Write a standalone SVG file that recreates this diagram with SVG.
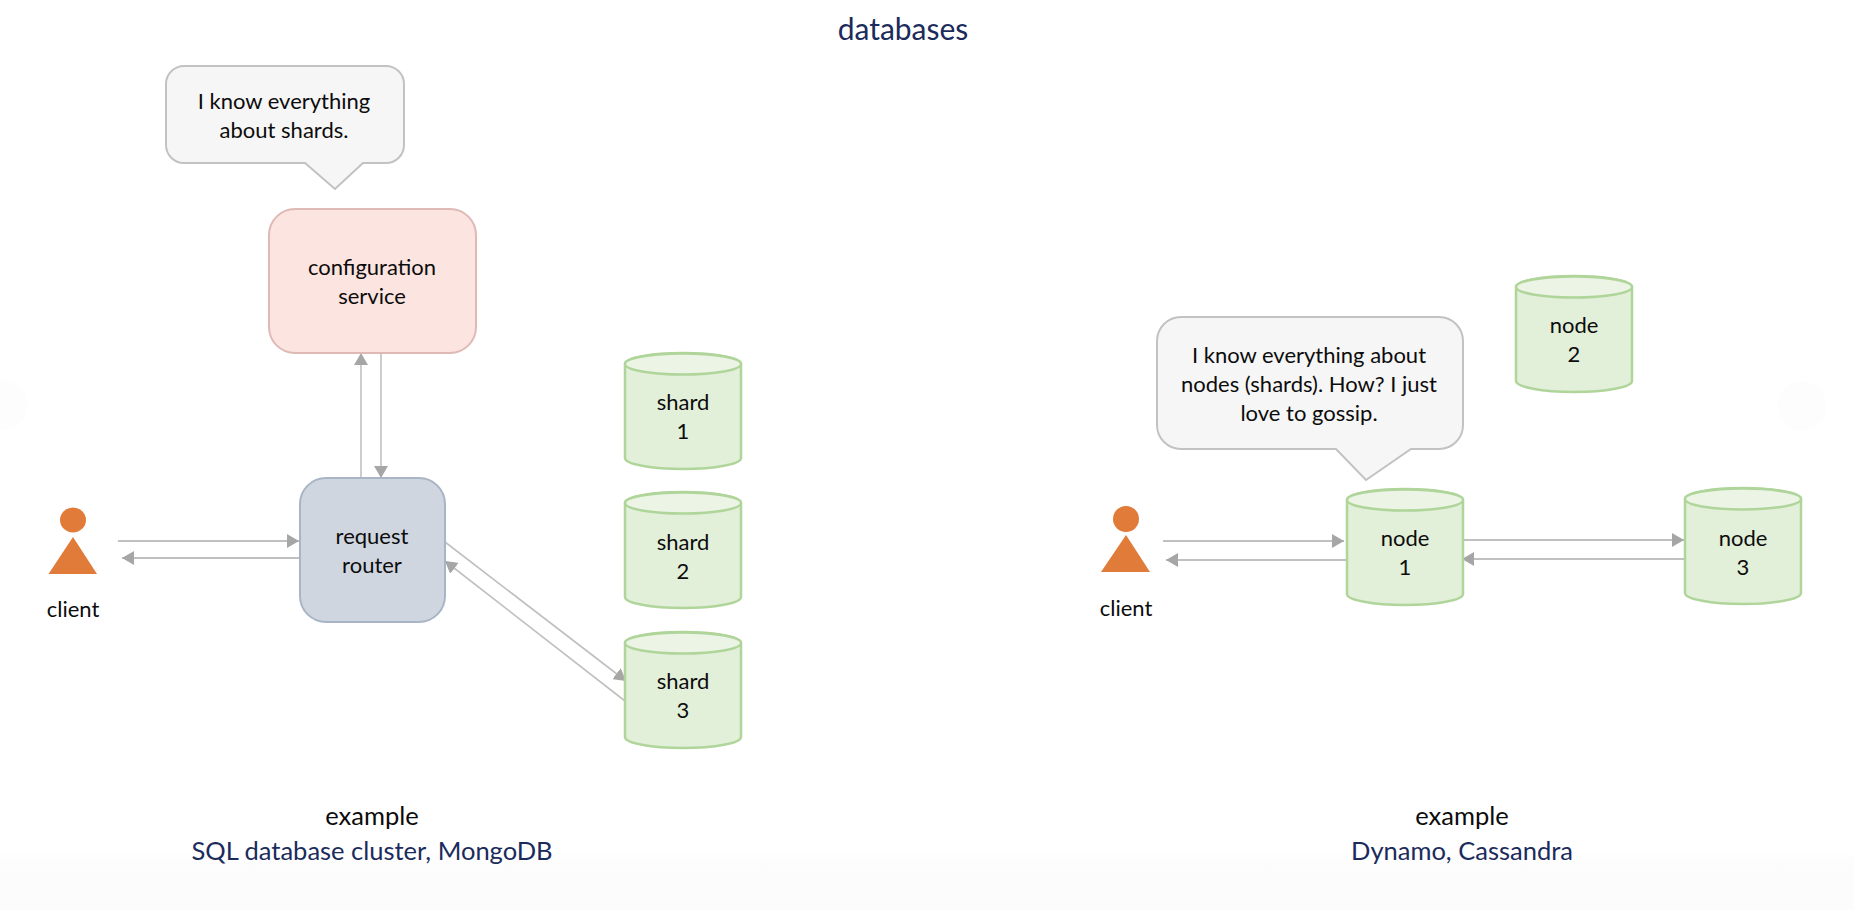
<svg xmlns="http://www.w3.org/2000/svg" width="1854" height="910" viewBox="0 0 1854 910">
<style>
text{font-family:"Lato","Open Sans","Liberation Sans",sans-serif;font-size:22px;fill:#0c0c0c;text-anchor:middle}
.navy{fill:#1a2b5c}
.big{font-size:25.500px}
.title{font-size:30px}
.call{fill:#f6f6f6;stroke:#c2c2c2;stroke-width:2;stroke-linejoin:miter}
.body{fill:#e2efd9;stroke:#b0d59a;stroke-width:2.5}
.lid{fill:#ebf4e5;stroke:#b0d59a;stroke-width:2.5}
.conn{stroke:#c0c0c0;stroke-width:1.6;fill:none;marker-end:url(#arr)}
.conn2{stroke-width:2.2}
.or{fill:#e07b39}
</style>
<defs>
<marker id="arr" markerUnits="userSpaceOnUse" markerWidth="13" markerHeight="14" refX="12" refY="7" orient="auto"><path d="M0 0L12 7L0 14Z" fill="#a6a6a6"/></marker>
<linearGradient id="fade" x1="0" y1="0" x2="0" y2="1"><stop offset="0" stop-color="#ffffff"/><stop offset="0.3" stop-color="#fcfcfc"/><stop offset="1" stop-color="#fcfcfc"/></linearGradient>
<path id="cyl" d="M0 11A58 11 0 0 1 116 11V105A58 11 0 0 1 0 105Z" class="body"/>
<ellipse id="lid" cx="58" cy="11" rx="58" ry="10.5" class="lid"/>
</defs>
<rect width="1854" height="910" fill="#fff"/>
<rect y="848" width="1854" height="62" fill="url(#fade)"/>
<ellipse cx="0" cy="405" rx="28" ry="25" fill="#fdfdfd"/>
<ellipse cx="1802" cy="406" rx="24" ry="25" fill="#fdfdfd"/>
<text class="title navy" x="903" y="40">databases</text>
<g id="connectors">
<path class="conn" d="M361 478V353"/>
<path class="conn" d="M381 353V478"/>
<path class="conn conn2" d="M118 541H299"/>
<path class="conn conn2" d="M303 558H122"/>
<path class="conn" d="M445 542L626 681"/>
<path class="conn" d="M625 701L445 561"/>
<path class="conn conn2" d="M1163 541H1344"/>
<path class="conn conn2" d="M1346 560H1166"/>
<path class="conn conn2" d="M1460 540H1684"/>
<path class="conn conn2" d="M1684 559H1462"/>
</g>
<g id="callout-shards">
<path class="call" d="M184 66H386A18 18 0 0 1 404 84V145A18 18 0 0 1 386 163H363L335 189L305 163H184A18 18 0 0 1 166 145V84A18 18 0 0 1 184 66Z"/>
<text x="284" y="109">I know everything</text>
<text x="284" y="138">about shards.</text>
</g>
<g id="config-service">
<rect x="269" y="209" width="207" height="144" rx="26" fill="#fce4e0" stroke="#dfb9b5" stroke-width="2"/>
<text x="372" y="275">configuration</text>
<text x="372" y="304">service</text>
</g>
<g id="request-router">
<rect x="300" y="478" width="145" height="144" rx="26" fill="#d0d6e0" stroke="#a9b5c6" stroke-width="2"/>
<text x="372" y="544">request</text>
<text x="372" y="573">router</text>
</g>
<g id="client-left">
<ellipse class="or" cx="73" cy="520" rx="13" ry="12.5"/>
<path class="or" d="M73 537L97 574H48.500Z"/>
<text x="73" y="617">client</text>
</g>
<g id="shard-1" transform="translate(625 353)"><use href="#cyl"/><use href="#lid"/><text x="58" y="57">shard</text><text x="58" y="86">1</text></g>
<g id="shard-2" transform="translate(625 492)"><use href="#cyl"/><use href="#lid"/><text x="58" y="58">shard</text><text x="58" y="87">2</text></g>
<g id="shard-3" transform="translate(625 632)"><use href="#cyl"/><use href="#lid"/><text x="58" y="57">shard</text><text x="58" y="86">3</text></g>
<text class="big" x="372" y="825">example</text>
<text class="big navy" x="372" y="860">SQL database cluster, MongoDB</text>
<g id="callout-nodes">
<path class="call" d="M1181 317H1439A24 24 0 0 1 1463 341V425A24 24 0 0 1 1439 449H1411L1366 480L1336 449H1181A24 24 0 0 1 1157 425V341A24 24 0 0 1 1181 317Z"/>
<text x="1309" y="363">I know everything about</text>
<text x="1309" y="392">nodes (shards). How? I just</text>
<text x="1309" y="421">love to gossip.</text>
</g>
<g id="node-2" transform="translate(1516 276)"><use href="#cyl"/><use href="#lid"/><text x="58" y="57">node</text><text x="58" y="86">2</text></g>
<g id="node-1" transform="translate(1347 489)"><use href="#cyl"/><use href="#lid"/><text x="58" y="57">node</text><text x="58" y="86">1</text></g>
<g id="node-3" transform="translate(1685 488)"><use href="#cyl"/><use href="#lid"/><text x="58" y="58">node</text><text x="58" y="87">3</text></g>
<g id="client-right">
<ellipse class="or" cx="1126" cy="519" rx="13" ry="13"/>
<path class="or" d="M1126 535L1150 572H1101Z"/>
<text x="1126" y="616">client</text>
</g>
<text class="big" x="1462" y="825">example</text>
<text class="big navy" x="1462" y="860">Dynamo, Cassandra</text>
</svg>
